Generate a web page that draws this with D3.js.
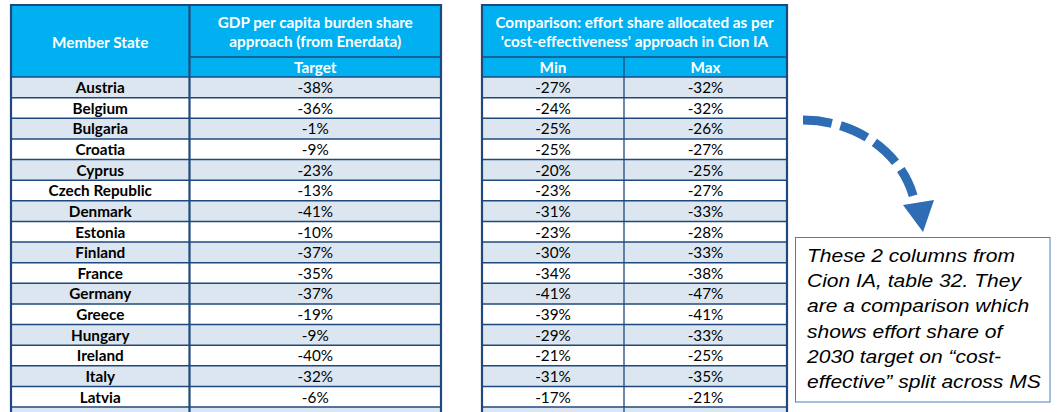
<!DOCTYPE html>
<html><head><meta charset="utf-8">
<script src="https://cdn.jsdelivr.net/npm/d3@7"></script>
<style>html,body{margin:0;padding:0;background:#fff;overflow:hidden}</style>
</head><body>
<script>
const countries = ["Austria","Belgium","Bulgaria","Croatia","Cyprus","Czech Republic","Denmark","Estonia","Finland","France","Germany","Greece","Hungary","Ireland","Italy","Latvia"];
const gdpTarget = [-38,-36,-1,-9,-23,-13,-41,-10,-37,-35,-37,-19,-9,-40,-32,-6];
const ciaMin = [-27,-24,-25,-25,-20,-23,-31,-23,-30,-34,-41,-39,-29,-21,-31,-17];
const ciaMax = [-32,-32,-26,-27,-25,-27,-33,-28,-33,-38,-47,-41,-33,-25,-35,-21];
const leftHeader = ["GDP per capita burden share","approach (from Enerdata)"];
const rightHeader = ["Comparison: effort share allocated as per","'cost-effectiveness' approach in Cion IA"];
const subHeaders = {target:"Target", min:"Min", max:"Max"};
const noteLines = ["These 2 columns from","Cion IA, table 32. They","are a comparison which","shows effort share of","2030 target on \u201ccost-","effective\u201d split across MS"];

(function(){
const W=1058,H=412;
const HEAD="#00b0f0", BORDER="#1f497d", SHADE="#dce6f1", ARROW="#2e6db4";
const FONT="Lato, 'Open Sans', sans-serif";
const FS=15.3;
const svg=d3.select("body").append("svg").attr("width",W).attr("height",H);

const topY=5, subY=57, headB=77, rowH=20.625;
const y=d3.scaleBand().domain(d3.range(countries.length+1)).range([headB, headB+rowH*(countries.length+1)]).padding(0);
const fmt=v=>`${v}%`;

function table(xs, cols, headerLines, subs, mergedFirst){
  const g=svg.append("g");
  const x0=xs[0], xN=xs[xs.length-1];
  g.append("rect").attr("x",x0).attr("y",topY).attr("width",xN-x0).attr("height",headB-topY).attr("fill",HEAD);
  const rowsIdx=d3.range(countries.length+1);
  g.selectAll("rect.row").data(rowsIdx).join("rect").attr("class","row")
    .attr("x",x0).attr("y",i=>y(i)).attr("width",xN-x0).attr("height",y.bandwidth())
    .attr("fill",i=>i%2===0?SHADE:"#fff");
  g.selectAll("line.h").data(rowsIdx.concat([countries.length+1])).join("line").attr("class","h")
    .attr("x1",x0).attr("x2",xN).attr("y1",i=>y(0)+i*rowH).attr("y2",i=>y(0)+i*rowH)
    .attr("stroke",BORDER).attr("stroke-width",1.5);
  const sx0 = mergedFirst? xs[1] : x0;
  g.append("line").attr("x1",sx0).attr("x2",xN).attr("y1",subY).attr("y2",subY).attr("stroke",BORDER).attr("stroke-width",1.3);
  g.append("line").attr("x1",x0-1).attr("x2",xN+1).attr("y1",topY).attr("y2",topY).attr("stroke",BORDER).attr("stroke-width",2);
  const hx0 = mergedFirst? xs[1]: x0;
  const hcx=(hx0+xN)/2;
  g.selectAll("text.hd").data(headerLines).join("text").attr("class","hd")
    .attr("x",hcx).attr("y",(d,i)=>22.5+i*19.5).attr("dy","0.35em").attr("text-anchor","middle")
    .attr("fill","#fff").attr("font-family",FONT).attr("font-weight","bold").attr("font-size",FS).text(d=>d);
  const subStart = mergedFirst?1:0;
  subs.forEach((s,k)=>{
    const a=xs[subStart+k], b=xs[subStart+k+1];
    g.append("text").attr("x",(a+b)/2).attr("y",(subY+headB)/2+1).attr("dy","0.35em").attr("text-anchor","middle")
      .attr("fill","#fff").attr("font-family",FONT).attr("font-weight","bold").attr("font-size",FS).text(s);
  });
  cols.forEach((col,k)=>{
    const a=xs[k], b=xs[k+1];
    g.selectAll(null).data(col.values).join("text")
      .attr("x",(a+b)/2).attr("y",(d,i)=>y(i)+y.bandwidth()/2+0.5).attr("dy","0.35em").attr("text-anchor","middle")
      .attr("fill","#000").attr("font-family",FONT).attr("font-weight",col.bold?"bold":"normal").attr("font-size",FS)
      .text(d=>col.fmt?col.fmt(d):d);
  });
  xs.forEach((xv,k)=>{
    const outer = k===0||k===xs.length-1;
    const thick = outer || (mergedFirst && k===1);
    g.append("line").attr("x1",xv).attr("x2",xv)
      .attr("y1", (!outer && !mergedFirst)? subY : (!outer && mergedFirst)? topY : topY-1)
      .attr("y2",H+5).attr("stroke",BORDER).attr("stroke-width",thick?2.2:1.3);
  });
  if(mergedFirst){
    g.append("text").attr("x",(xs[0]+xs[1])/2).attr("y",43).attr("dy","0.35em").attr("text-anchor","middle")
      .attr("fill","#fff").attr("font-family",FONT).attr("font-weight","bold").attr("font-size",FS).text("Member State");
  }
}

table([11,189.5,441],[{values:countries,bold:true},{values:gdpTarget,fmt}],leftHeader,[subHeaders.target],true);
table([482,624,787],[{values:ciaMin,fmt},{values:ciaMax,fmt}],rightHeader,[subHeaders.min,subHeaders.max],false);

svg.append("path").attr("d","M803,120 C858,120 905,155 915,203")
  .attr("fill","none").attr("stroke",ARROW).attr("stroke-width",9).attr("stroke-dasharray","29,9");
svg.append("path").attr("d","M903,205 L934,200 L923,232 Z").attr("fill",ARROW);

svg.append("rect").attr("x",795.5).attr("y",237.5).attr("width",254.5).attr("height",164.5)
  .attr("fill","#fff").attr("stroke","#4a7ebb").attr("stroke-width",1);
const ng=svg.append("g").attr("transform","translate(807,0) scale(1.12,1)");
ng.selectAll("text").data(noteLines).join("text")
  .attr("x",0).attr("y",(d,i)=>255+i*25.3).attr("dy","0.36em")
  .attr("font-family","'Liberation Sans', Arial, sans-serif").attr("font-style","italic").attr("font-size",18.8)
  .attr("fill","#000").text(d=>d);
})();
</script>
</body></html>
